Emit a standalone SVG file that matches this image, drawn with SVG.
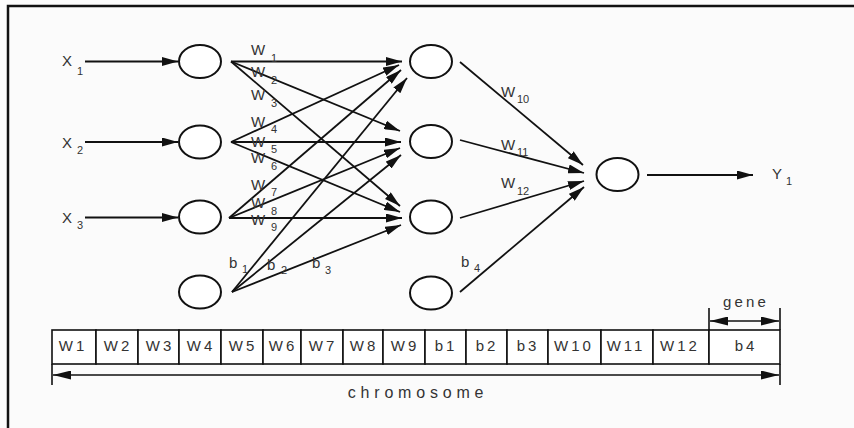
<svg xmlns="http://www.w3.org/2000/svg" width="854" height="428" viewBox="0 0 854 428">
  <style>
    .node { fill: #ffffff; stroke: #111; stroke-width: 2; }
    .edge { fill: none; stroke: #111; stroke-width: 1.8; marker-end: url(#head); }
    .lbl { font-family: "Liberation Sans", Arial, sans-serif; font-size: 15px; fill: #333; }
    .sub { font-family: "Liberation Sans", Arial, sans-serif; font-size: 11px; fill: #333; }
    .cell { fill: #ffffff; stroke: #111; stroke-width: 1.6; }
    .gene-txt { font-family: "Liberation Sans", Arial, sans-serif; font-size: 15px; fill: #333; letter-spacing: 3px; text-anchor: middle; }
    .dim { fill: none; stroke: #111; stroke-width: 1.6; }
  </style>
  <defs>
    <marker id="head" markerUnits="userSpaceOnUse" markerWidth="16" markerHeight="9" refX="16" refY="4.5" orient="auto">
      <path d="M0,0 L16,4.5 L0,9 z" fill="#111"/>
    </marker>
    <marker id="dimhead" markerUnits="userSpaceOnUse" markerWidth="18" markerHeight="9" refX="18" refY="4.5" orient="auto-start-reverse">
      <path d="M0,0 L18,4.5 L0,9 z" fill="#111"/>
    </marker>
  </defs>

  <!-- page background and frame -->
  <rect x="0" y="0" width="854" height="428" fill="#fbfbfb"/>
  <path d="M8,428 V6 H854" fill="none" stroke="#111" stroke-width="2.5"/>

  <!-- connectors -->
  <g id="connectors">
    <!-- inputs into input layer -->
    <line class="edge" x1="85" y1="61.5" x2="178" y2="61.5"/>
    <line class="edge" x1="85" y1="142" x2="178" y2="142"/>
    <line class="edge" x1="85" y1="217.5" x2="178" y2="217.5"/>
    <!-- input layer to hidden layer -->
    <line class="edge" x1="231" y1="61.5" x2="402" y2="61.5"/>
    <line class="edge" x1="231" y1="61.5" x2="400" y2="131"/>
    <line class="edge" x1="231" y1="61.5" x2="400" y2="206"/>
    <line class="edge" x1="231" y1="142" x2="399" y2="65"/>
    <line class="edge" x1="231" y1="142" x2="401" y2="142"/>
    <line class="edge" x1="231" y1="142" x2="400" y2="212"/>
    <line class="edge" x1="229" y1="218" x2="401" y2="70"/>
    <line class="edge" x1="229" y1="218" x2="400" y2="148"/>
    <line class="edge" x1="229" y1="218" x2="402" y2="218"/>
    <!-- bias node to hidden layer -->
    <line class="edge" x1="232" y1="292" x2="407" y2="78"/>
    <line class="edge" x1="232" y1="292" x2="401" y2="155"/>
    <line class="edge" x1="232" y1="292" x2="401" y2="225"/>
    <!-- hidden layer to output -->
    <line class="edge" x1="460" y1="62" x2="583" y2="165"/>
    <line class="edge" x1="460" y1="140" x2="584" y2="173"/>
    <line class="edge" x1="460" y1="218" x2="584" y2="181"/>
    <line class="edge" x1="460" y1="292" x2="584" y2="187"/>
    <!-- output -->
    <line class="edge" x1="647" y1="175" x2="753" y2="175"/>
  </g>

  <!-- input layer -->
  <g id="in1"><ellipse class="node" cx="200" cy="61.5" rx="21" ry="16.5"/></g>
  <g id="in2"><ellipse class="node" cx="200" cy="142" rx="21" ry="16.5"/></g>
  <g id="in3"><ellipse class="node" cx="200" cy="217" rx="21" ry="16.5"/></g>
  <g id="bias1"><ellipse class="node" cx="200" cy="292" rx="21" ry="16.5"/></g>

  <!-- hidden layer -->
  <g id="hid1"><ellipse class="node" cx="431" cy="61.5" rx="21" ry="16.5"/></g>
  <g id="hid2"><ellipse class="node" cx="431" cy="141.5" rx="21" ry="16.5"/></g>
  <g id="hid3"><ellipse class="node" cx="431" cy="217" rx="21" ry="16.5"/></g>
  <g id="bias2"><ellipse class="node" cx="431" cy="293" rx="21" ry="16.5"/></g>

  <!-- output node -->
  <g id="out1"><ellipse class="node" cx="617.5" cy="174.5" rx="21" ry="16.5"/></g>

  <!-- input / output labels -->
  <g id="labels-io">
    <text class="lbl" x="62" y="66">X</text><text class="sub" x="77" y="75">1</text>
    <text class="lbl" x="62" y="148">X</text><text class="sub" x="77" y="154">2</text>
    <text class="lbl" x="62" y="223">X</text><text class="sub" x="77" y="229">3</text>
    <text class="lbl" x="772" y="179">Y</text><text class="sub" x="786" y="185">1</text>
  </g>

  <!-- weight labels -->
  <g id="labels-w">
    <text class="lbl" x="251" y="55">W</text><text class="sub" x="271" y="62">1</text>
    <text class="lbl" x="251" y="77">W</text><text class="sub" x="271" y="84">2</text>
    <text class="lbl" x="251" y="100">W</text><text class="sub" x="271" y="107">3</text>
    <text class="lbl" x="251" y="127">W</text><text class="sub" x="271" y="133">4</text>
    <text class="lbl" x="251" y="147">W</text><text class="sub" x="271" y="153">5</text>
    <text class="lbl" x="251" y="163">W</text><text class="sub" x="271" y="170">6</text>
    <text class="lbl" x="251" y="190">W</text><text class="sub" x="271" y="196">7</text>
    <text class="lbl" x="251" y="208">W</text><text class="sub" x="271" y="215">8</text>
    <text class="lbl" x="251" y="225">W</text><text class="sub" x="271" y="231">9</text>
    <text class="lbl" x="229" y="268">b</text><text class="sub" x="242" y="273">1</text>
    <text class="lbl" x="267" y="270">b</text><text class="sub" x="281" y="274">2</text>
    <text class="lbl" x="312" y="268">b</text><text class="sub" x="325" y="274">3</text>
    <text class="lbl" x="501" y="97">W</text><text class="sub" x="517" y="103">10</text>
    <text class="lbl" x="501" y="150">W</text><text class="sub" x="517" y="156">11</text>
    <text class="lbl" x="501" y="188">W</text><text class="sub" x="517" y="195">12</text>
    <text class="lbl" x="461" y="267">b</text><text class="sub" x="474" y="272">4</text>
  </g>

  <!-- chromosome encoding -->
  <g id="chromosome">
    <rect class="cell" x="52" y="330" width="44" height="34"/>
    <rect class="cell" x="96" y="330" width="42" height="34"/>
    <rect class="cell" x="138" y="330" width="41" height="34"/>
    <rect class="cell" x="179" y="330" width="42" height="34"/>
    <rect class="cell" x="221" y="330" width="42" height="34"/>
    <rect class="cell" x="263" y="330" width="38" height="34"/>
    <rect class="cell" x="301" y="330" width="42" height="34"/>
    <rect class="cell" x="343" y="330" width="40" height="34"/>
    <rect class="cell" x="383" y="330" width="42" height="34"/>
    <rect class="cell" x="425" y="330" width="41" height="34"/>
    <rect class="cell" x="466" y="330" width="41" height="34"/>
    <rect class="cell" x="507" y="330" width="41" height="34"/>
    <rect class="cell" x="548" y="330" width="53" height="34"/>
    <rect class="cell" x="601" y="330" width="52" height="34"/>
    <rect class="cell" x="653" y="330" width="56" height="34"/>
    <rect class="cell" x="709" y="330" width="71" height="34"/>

    <text class="gene-txt" x="73" y="351">W1</text>
    <text class="gene-txt" x="118" y="351">W2</text>
    <text class="gene-txt" x="160" y="351">W3</text>
    <text class="gene-txt" x="201" y="351">W4</text>
    <text class="gene-txt" x="243" y="351">W5</text>
    <text class="gene-txt" x="283" y="351">W6</text>
    <text class="gene-txt" x="323" y="351">W7</text>
    <text class="gene-txt" x="364" y="351">W8</text>
    <text class="gene-txt" x="405" y="351">W9</text>
    <text class="gene-txt" x="446" y="351">b1</text>
    <text class="gene-txt" x="487" y="351">b2</text>
    <text class="gene-txt" x="528" y="351">b3</text>
    <text class="gene-txt" x="574" y="351">W10</text>
    <text class="gene-txt" x="626" y="351">W11</text>
    <text class="gene-txt" x="680" y="351">W12</text>
    <text class="gene-txt" x="746" y="351">b4</text>

    <!-- gene span -->
    <line class="dim" x1="709" y1="308" x2="709" y2="330"/>
    <line class="dim" x1="780" y1="308" x2="780" y2="330"/>
    <line class="dim" x1="710" y1="321" x2="779" y2="321" marker-start="url(#dimhead)" marker-end="url(#dimhead)"/>
    <text class="gene-txt" x="746" y="307" style="letter-spacing:3.2px">gene</text>

    <!-- chromosome span -->
    <line class="dim" x1="52" y1="364" x2="52" y2="385"/>
    <line class="dim" x1="780" y1="364" x2="780" y2="385"/>
    <line class="dim" x1="53" y1="375" x2="779" y2="375" marker-start="url(#dimhead)" marker-end="url(#dimhead)"/>
    <text class="gene-txt" x="418" y="398" style="font-size:16px;letter-spacing:4.8px">chromosome</text>
  </g>
</svg>
